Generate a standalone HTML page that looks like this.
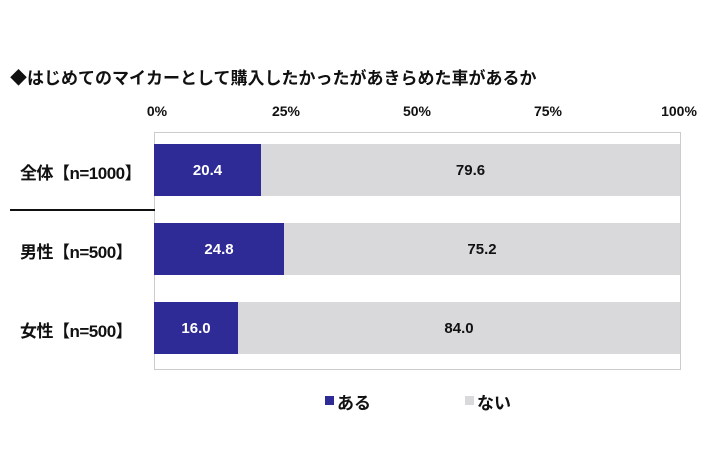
<!DOCTYPE html>
<html><head><meta charset="utf-8"><style>
body{margin:0;width:710px;height:474px;background:#fff;position:relative;overflow:hidden;font-family:"Liberation Sans","Noto Sans CJK JP",sans-serif;font-weight:bold;color:#111}
.a{position:absolute;white-space:nowrap}
.t{font-size:17px;left:10px;top:64px}
.x{font-size:14px;top:103px;transform:translateX(-50%)}
.c{font-size:17px;left:20px;letter-spacing:-0.5px}
.bar{position:absolute;left:154px;width:526px;height:52px;background:#d9d9db;display:flex}
.b1{background:#2e2b96;color:#fff;display:flex;align-items:center;justify-content:center;font-size:15px}
.b2{flex:1;display:flex;align-items:center;justify-content:center;font-size:15px}
</style></head><body>
<div class="a t">◆はじめてのマイカーとして購入したかったがあきらめた車があるか</div>
<div class="a x" style="left:157px">0%</div>
<div class="a x" style="left:286px">25%</div>
<div class="a x" style="left:417px">50%</div>
<div class="a x" style="left:548px">75%</div>
<div class="a x" style="left:679px">100%</div>
<div class="a" style="left:154px;top:132px;width:525px;height:236px;border:1px solid #ccc"></div>
<div class="a" style="left:10px;top:209px;width:145px;height:2px;background:#111"></div>
<div class="bar" style="top:144px"><div class="b1" style="width:107px">20.4</div><div class="b2">79.6</div></div>
<div class="bar" style="top:223px"><div class="b1" style="width:130px">24.8</div><div class="b2">75.2</div></div>
<div class="bar" style="top:302px"><div class="b1" style="width:84px">16.0</div><div class="b2">84.0</div></div>
<div class="a c" style="top:159px">全体【n=1000】</div>
<div class="a c" style="top:238px">男性【n=500】</div>
<div class="a c" style="top:317px">女性【n=500】</div>
<div class="a" style="left:325px;top:396px;width:9px;height:9px;background:#2e2b96"></div>
<div class="a" style="left:337px;top:389px;font-size:17px">ある</div>
<div class="a" style="left:465px;top:396px;width:9px;height:9px;background:#d9d9db"></div>
<div class="a" style="left:477px;top:389px;font-size:17px">ない</div>
</body></html>
